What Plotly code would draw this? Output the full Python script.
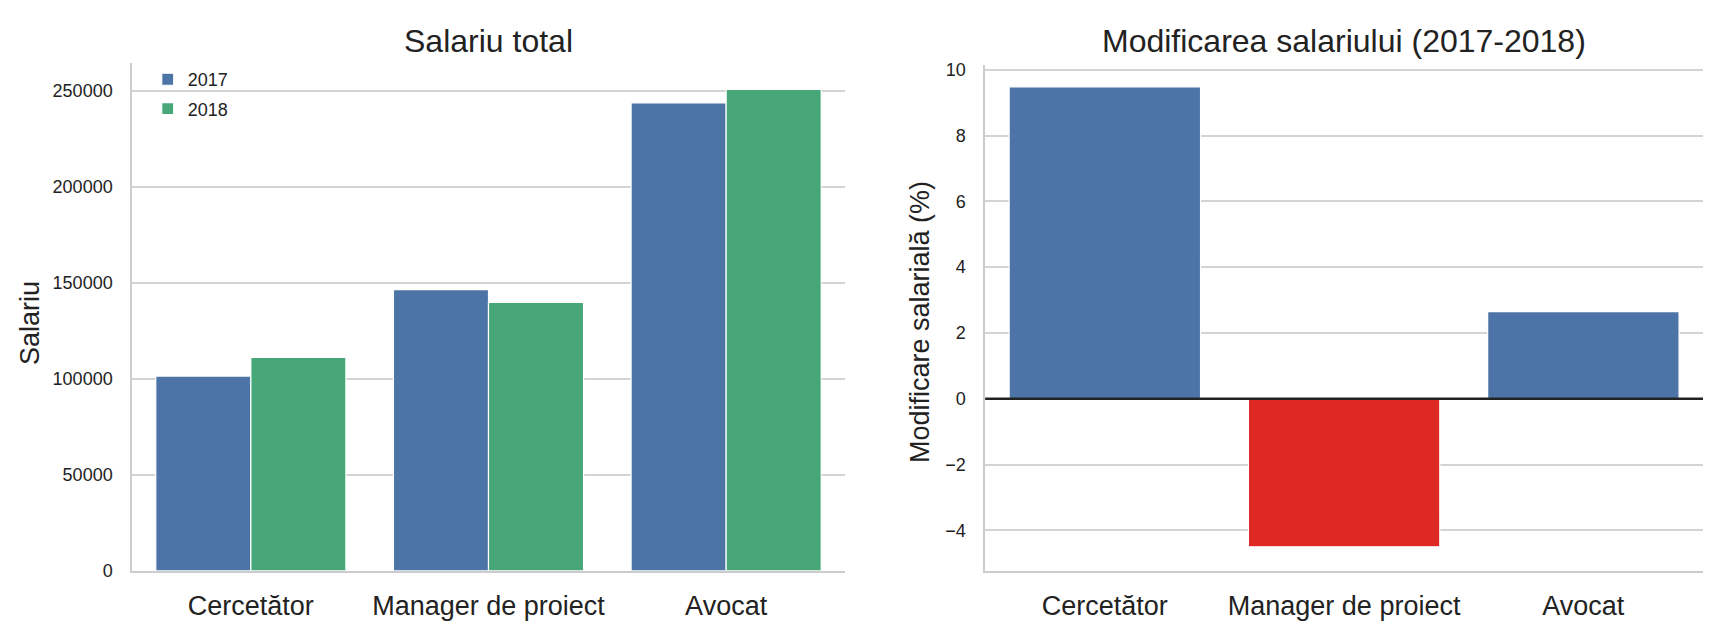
import plotly.graph_objects as go
from plotly.subplots import make_subplots

# Date
jobs = ["Cercetător", "Manager de proiect", "Avocat"]
salary_2017 = [101400, 146400, 243600]
salary_2018 = [111100, 139800, 250600]
change_pct = [9.48, -4.50, 2.65]

blue = "#4c74a6"
green = "#48a779"
red = "#de2824"
grid = "#d4d4d4"
font = "Liberation Sans, Arial, sans-serif"

bar_colors = [blue if v >= 0 else red for v in change_pct]

fig = make_subplots(rows=1, cols=2)

fig.add_trace(go.Bar(x=jobs, y=salary_2017, name="2017", marker_color=blue, legendgroup="a",
                     marker_line=dict(color="white", width=1.2)), row=1, col=1)
fig.add_trace(go.Bar(x=jobs, y=salary_2018, name="2018", marker_color=green, legendgroup="b",
                     marker_line=dict(color="white", width=1.2)), row=1, col=1)
fig.add_trace(go.Bar(x=jobs, y=change_pct, marker_color=bar_colors, showlegend=False,
                     marker_line=dict(color="white", width=1.2)), row=1, col=2)

# linie neagra la zero
fig.add_hline(y=0, line=dict(color="#222222", width=2.5), row=1, col=2)

axis_common = dict(showline=True, linecolor="#cccccc", linewidth=1.5, mirror=False,
                   ticks="outside", tickcolor="rgba(0,0,0,0)", automargin=False)

fig.update_xaxes(**axis_common, showgrid=False, ticklen=10,
                 tickfont=dict(size=27, color="#222222", family=font))
fig.update_yaxes(**axis_common, showgrid=True, gridcolor=grid, gridwidth=1.5,
                 zeroline=False, ticklen=14, tickformat="d",
                 tickfont=dict(size=18, color="#222222", family=font))

fig.update_xaxes(domain=[0.0719, 0.4852], range=[-0.5, 2.5], row=1, col=1)
fig.update_xaxes(domain=[0.5665, 0.9826], range=[-0.5, 2.5], row=1, col=2)
fig.update_yaxes(domain=[0.098, 0.912], range=[0, 264400], dtick=50000, row=1, col=1)
fig.update_yaxes(domain=[0.098, 0.909], range=[-5.23, 10.15], dtick=2, row=1, col=2)

fig.update_layout(
    width=1725, height=624,
    margin=dict(l=0, r=0, t=0, b=0),
    paper_bgcolor="white", plot_bgcolor="white",
    barmode="group", bargap=0.2, bargroupgap=0,
    font=dict(family=font, color="#222222"),
    legend=dict(x=0.081, y=0.915, xanchor="left", yanchor="top",
                bgcolor="rgba(0,0,0,0)", font=dict(size=18, family=font),
                tracegroupgap=3),
    annotations=[
        dict(text="Salariu total", xref="paper", yref="paper", x=0.2786, y=1 - 33 / 624,
             xanchor="center", yanchor="middle", showarrow=False,
             font=dict(size=32, family=font, color="#222222")),
        dict(text="Modificarea salariului (2017-2018)", xref="paper", yref="paper",
             x=0.7745, y=1 - 33 / 624, xanchor="center", yanchor="middle", showarrow=False,
             font=dict(size=32, family=font, color="#222222")),
        dict(text="Salariu", xref="paper", yref="paper", x=22 / 1725, y=1 - 315 / 624,
             xanchor="center", yanchor="middle", textangle=-90, showarrow=False,
             font=dict(size=27, family=font, color="#222222")),
        dict(text="Modificare salarială (%)", xref="paper", yref="paper", x=912 / 1725,
             y=1 - 314 / 624, xanchor="center", yanchor="middle", textangle=-90,
             showarrow=False, font=dict(size=27, family=font, color="#222222")),
    ],
)

fig.write_html("out.html")
